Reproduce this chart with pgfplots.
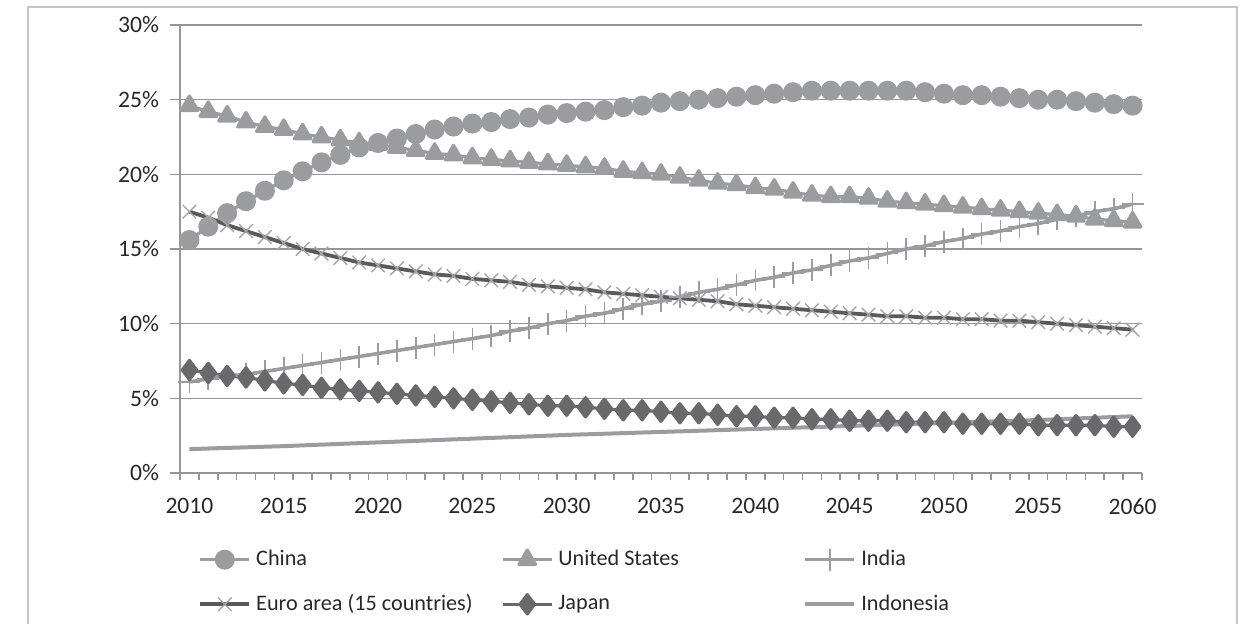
\documentclass[border=0pt]{standalone}
\usepackage{pgfplots}
\pgfplotsset{compat=1.18}
\usepackage{pgfplotstable}
\usepackage{fontspec}
\setmainfont{Carlito}

\definecolor{lgray}{RGB}{155,156,160}
\definecolor{xgray}{RGB}{165,165,168}
\definecolor{dgray}{RGB}{90,90,92}
\definecolor{jgray}{RGB}{105,105,108}
\definecolor{gridc}{RGB}{150,150,150}
\definecolor{txt}{RGB}{40,40,40}
\newcommand\tfont{\fontsize{11.8}{14}\selectfont}

% share of world GDP, %
\pgfplotstableread{
year china us india euro japan indo
2010 15.6 24.6 6.1 17.5 6.9 1.60
2011 16.5 24.2 6.3 17.1 6.7 1.64
2012 17.4 23.9 6.5 16.6 6.5 1.68
2013 18.2 23.5 6.6 16.2 6.4 1.72
2014 18.9 23.2 6.8 15.8 6.2 1.76
2015 19.6 23.0 7.0 15.4 6.0 1.80
2016 20.2 22.7 7.2 15.0 5.9 1.85
2017 20.8 22.5 7.4 14.7 5.7 1.90
2018 21.3 22.3 7.6 14.4 5.6 1.95
2019 21.8 22.1 7.8 14.1 5.5 2.00
2020 22.1 22.0 8.0 13.9 5.4 2.05
2021 22.4 21.8 8.2 13.7 5.3 2.10
2022 22.7 21.6 8.4 13.5 5.2 2.15
2023 23.0 21.4 8.6 13.3 5.1 2.20
2024 23.2 21.3 8.8 13.2 5.0 2.25
2025 23.4 21.1 9.0 13.0 4.9 2.30
2026 23.5 21.0 9.2 12.9 4.8 2.35
2027 23.7 20.9 9.5 12.8 4.7 2.40
2028 23.8 20.8 9.7 12.6 4.6 2.45
2029 24.0 20.7 10.0 12.5 4.5 2.50
2030 24.1 20.6 10.2 12.4 4.5 2.55
2031 24.2 20.5 10.5 12.3 4.4 2.59
2032 24.3 20.4 10.7 12.1 4.3 2.63
2033 24.5 20.2 11.0 12.0 4.2 2.67
2034 24.6 20.1 11.3 11.9 4.2 2.71
2035 24.8 20.0 11.5 11.8 4.1 2.75
2036 24.9 19.8 11.8 11.7 4.0 2.79
2037 25.0 19.6 12.1 11.6 4.0 2.83
2038 25.1 19.4 12.3 11.5 3.9 2.87
2039 25.2 19.3 12.6 11.3 3.8 2.91
2040 25.3 19.1 12.9 11.2 3.8 2.95
2041 25.4 19.0 13.1 11.1 3.7 2.99
2042 25.5 18.8 13.4 11.0 3.7 3.03
2043 25.6 18.6 13.6 10.9 3.6 3.07
2044 25.6 18.5 13.9 10.8 3.6 3.11
2045 25.6 18.5 14.2 10.7 3.5 3.15
2046 25.6 18.4 14.4 10.6 3.5 3.19
2047 25.6 18.2 14.7 10.5 3.5 3.23
2048 25.6 18.1 15.0 10.5 3.4 3.27
2049 25.5 18.0 15.2 10.4 3.4 3.31
2050 25.4 17.9 15.5 10.4 3.4 3.35
2051 25.3 17.8 15.7 10.3 3.3 3.39
2052 25.3 17.7 16.0 10.3 3.3 3.43
2053 25.2 17.6 16.2 10.2 3.3 3.47
2054 25.1 17.5 16.5 10.2 3.3 3.51
2055 25.0 17.4 16.7 10.1 3.2 3.55
2056 25.0 17.3 17.0 10.0 3.2 3.60
2057 24.9 17.2 17.2 9.9 3.2 3.65
2058 24.8 17.0 17.5 9.8 3.2 3.70
2059 24.7 16.9 17.7 9.7 3.1 3.75
2060 24.6 16.8 18.0 9.6 3.1 3.80
}\gdp

\begin{document}
\begin{tikzpicture}
% page frame (px -> 0.5pt, origin at the axis corner)
\useasboundingbox (-90pt,-75pt) rectangle (536.5pt,236.5pt);
\draw[gray!45, line width=0.8pt] (-76pt,-80pt) -- (-76pt,233pt) -- (528.5pt,233pt) -- (528.5pt,-80pt);
\begin{axis}[
    at={(0pt,0pt)}, anchor=south west,
    width=481pt, height=224pt, scale only axis,
    xmin=2009.5, xmax=2060.5,
    ymin=0, ymax=30,
    axis lines*=left,
    axis line style={gridc, line width=0.8pt},
    xtick={2010,2015,...,2060},
    minor xtick={2009.5,2010.5,...,2060.5},
    major x tick style={draw=none},
    minor x tick style={gridc, line width=0.8pt},
    minor tick length=3.5pt,
    ytick={0,5,...,30},
    major y tick style={gridc, line width=0.8pt},
    major tick length=5pt,
    tick align=outside,
    ymajorgrids,
    grid style={gridc, line width=0.8pt},
    xticklabel={\tfont\pgfmathprintnumber[1000 sep={}]{\tick}},
    yticklabel={\tfont\pgfmathprintnumber{\tick}\%},
    tick label style={font=\tfont, text=txt},
    yticklabel style={xshift=-2pt},
    xticklabel style={yshift=-4pt},
    /pgf/number format/assume math mode=true,
    line join=round,
    legend columns=3,
    legend style={at={(0.0187,-0.168)}, anchor=north west, draw=none, fill=none,
        font=\fontsize{11.1}{13}\selectfont, text=txt,
        /tikz/every even column/.style={column sep=0pt},
        /tikz/every odd column/.style={column sep=0pt},
        row sep=12pt, inner sep=0pt,
        nodes={inner xsep=0pt, inner ysep=0pt}},
    legend image code/.code={%
        \draw[mark repeat=2, mark phase=2, #1] plot coordinates {(0pt,0pt) (12.25pt,0pt) (24.5pt,0pt)};},
]
\addplot[lgray, line width=1.6pt, mark=*, mark size=4.2pt, mark options={fill=lgray, draw=lgray}] table[x=year, y=china] {\gdp};
\addplot[lgray, line width=1.6pt, mark=triangle*, mark size=4.8pt, mark options={fill=lgray, draw=lgray}] table[x=year, y=us] {\gdp};
\addplot[lgray, line width=1.8pt, mark=+, mark size=5.5pt, mark options={draw=lgray, line width=0.8pt}] table[x=year, y=india] {\gdp};
\addplot[dgray, line width=1.9pt, mark=x, mark size=4.8pt, mark options={draw=xgray, line width=0.7pt}] table[x=year, y=euro] {\gdp};
\addplot[jgray, line width=1.6pt, mark=diamond*, mark size=4.8pt, mark options={fill=jgray, draw=jgray}] table[x=year, y=japan] {\gdp};
\addplot[lgray, line width=2pt] table[x=year, y=indo] {\gdp};
\legend{\hspace{2.5pt}\makebox[122.5pt][l]{China},
        \hspace{2.5pt}\makebox[122.5pt][l]{United States},
        \hspace{2.5pt}\makebox[122.5pt][l]{India},
        \hspace{2.5pt}\makebox[122.5pt][l]{Euro area (15 countries)},
        \hspace{2.5pt}\makebox[122.5pt][l]{Japan},
        \hspace{2.5pt}\makebox[122.5pt][l]{Indonesia}}
\end{axis}
\end{tikzpicture}
\end{document}
